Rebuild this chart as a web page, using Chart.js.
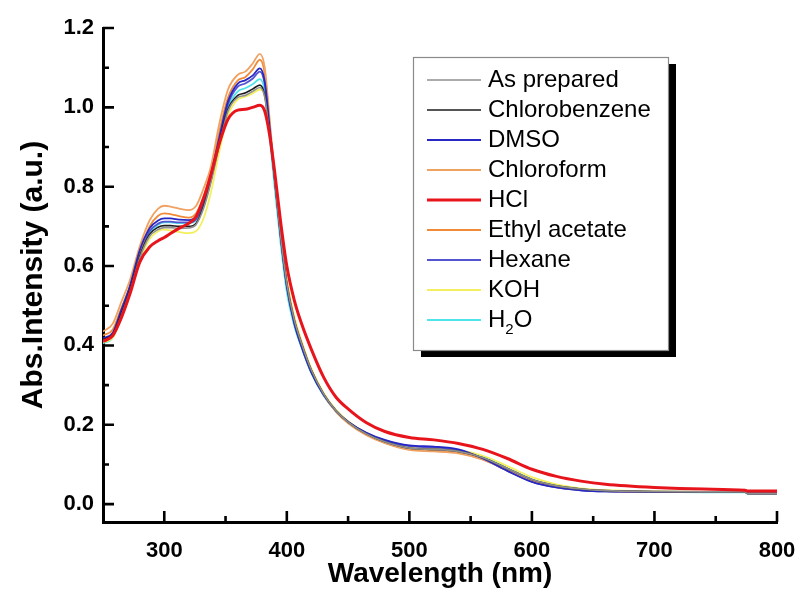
<!DOCTYPE html>
<html lang="en">
<head>
<meta charset="UTF-8">
<title>UV-Vis Absorption</title>
<style>
    html, body { margin: 0; padding: 0; background: #fff; }
    #wrap { width: 797px; height: 592px; }
</style>
<script src="https://cdn.jsdelivr.net/npm/chart.js@4.4.1/dist/chart.umd.min.js"></script>
</head>
<body>
<div id="wrap"><canvas id="spectra" width="797" height="592"></canvas></div>
<script>
// wavelength grid (nm)
const wavelength = [250, 258, 265, 272, 280, 288, 295, 300, 305, 312, 320, 326, 332, 338, 345, 352, 360, 366, 372, 378,
    382, 386, 390, 395, 400, 406, 412, 420, 430, 440, 450, 465, 480, 500, 520, 540, 560, 580, 600, 620,
    640, 660, 700, 740, 774, 776, 800];

// absorbance for each treatment
const asPrepared = [0.412, 0.425, 0.475, 0.535, 0.62, 0.675, 0.692, 0.697, 0.697, 0.695, 0.696, 0.705, 0.745, 0.81, 0.905, 0.99, 1.025, 1.03, 1.04, 1.05,
    1.025, 0.93, 0.82, 0.675, 0.555, 0.465, 0.405, 0.338, 0.278, 0.236, 0.207, 0.177, 0.157, 0.141, 0.138, 0.133, 0.117, 0.09, 0.062, 0.046,
    0.038, 0.034, 0.032, 0.031, 0.031, 0.027, 0.027];
const chlorobenzene = [0.415, 0.428, 0.48, 0.54, 0.625, 0.68, 0.698, 0.702, 0.702, 0.7, 0.7, 0.708, 0.75, 0.815, 0.91, 0.995, 1.03, 1.036, 1.046, 1.056,
    1.03, 0.935, 0.822, 0.676, 0.555, 0.465, 0.405, 0.338, 0.278, 0.236, 0.207, 0.177, 0.157, 0.141, 0.138, 0.133, 0.117, 0.09, 0.062, 0.046,
    0.038, 0.034, 0.032, 0.031, 0.031, 0.027, 0.027];
const dmso = [0.418, 0.432, 0.49, 0.55, 0.64, 0.695, 0.715, 0.72, 0.72, 0.717, 0.716, 0.724, 0.765, 0.83, 0.925, 1.015, 1.06, 1.068, 1.08, 1.098,
    1.065, 0.95, 0.825, 0.675, 0.55, 0.458, 0.398, 0.333, 0.276, 0.236, 0.208, 0.18, 0.162, 0.148, 0.145, 0.138, 0.115, 0.084, 0.056, 0.042,
    0.035, 0.032, 0.031, 0.031, 0.031, 0.027, 0.027];
const chloroform = [0.435, 0.455, 0.51, 0.565, 0.65, 0.715, 0.745, 0.752, 0.75, 0.745, 0.741, 0.752, 0.795, 0.85, 0.96, 1.045, 1.082, 1.09, 1.11, 1.135,
    1.1, 0.97, 0.835, 0.685, 0.56, 0.468, 0.407, 0.338, 0.277, 0.234, 0.204, 0.174, 0.154, 0.137, 0.133, 0.128, 0.112, 0.085, 0.058, 0.043,
    0.036, 0.033, 0.031, 0.031, 0.031, 0.027, 0.027];
const hcl = [0.41, 0.425, 0.47, 0.53, 0.61, 0.648, 0.664, 0.672, 0.682, 0.695, 0.708, 0.725, 0.77, 0.83, 0.91, 0.97, 0.993, 0.995, 1.0, 1.005,
    0.99, 0.93, 0.84, 0.71, 0.6, 0.515, 0.455, 0.39, 0.32, 0.27, 0.24, 0.205, 0.183, 0.168, 0.162, 0.153, 0.138, 0.115, 0.088, 0.07,
    0.058, 0.05, 0.042, 0.038, 0.035, 0.033, 0.033];
const ethylAcetate = [0.425, 0.44, 0.495, 0.55, 0.635, 0.7, 0.727, 0.733, 0.731, 0.726, 0.722, 0.733, 0.775, 0.835, 0.94, 1.025, 1.068, 1.076, 1.095, 1.12,
    1.085, 0.96, 0.83, 0.68, 0.558, 0.466, 0.405, 0.337, 0.277, 0.234, 0.205, 0.175, 0.155, 0.138, 0.134, 0.129, 0.113, 0.086, 0.059, 0.044,
    0.036, 0.033, 0.031, 0.031, 0.031, 0.027, 0.027];
const hexane = [0.414, 0.428, 0.485, 0.545, 0.632, 0.688, 0.707, 0.712, 0.712, 0.71, 0.71, 0.718, 0.76, 0.825, 0.92, 1.008, 1.052, 1.06, 1.072, 1.09,
    1.058, 0.945, 0.822, 0.673, 0.549, 0.457, 0.397, 0.332, 0.275, 0.235, 0.207, 0.179, 0.16, 0.146, 0.143, 0.136, 0.114, 0.084, 0.057, 0.042,
    0.035, 0.032, 0.031, 0.031, 0.031, 0.027, 0.027];
const koh = [0.408, 0.42, 0.47, 0.53, 0.612, 0.668, 0.688, 0.692, 0.69, 0.686, 0.683, 0.688, 0.72, 0.785, 0.89, 0.98, 1.02, 1.027, 1.035, 1.045,
    1.03, 0.945, 0.835, 0.69, 0.568, 0.475, 0.412, 0.342, 0.281, 0.238, 0.209, 0.179, 0.159, 0.143, 0.14, 0.136, 0.122, 0.096, 0.068, 0.05,
    0.04, 0.035, 0.032, 0.031, 0.031, 0.027, 0.027];
const water = [0.405, 0.42, 0.478, 0.54, 0.628, 0.685, 0.704, 0.71, 0.71, 0.708, 0.708, 0.716, 0.757, 0.82, 0.915, 1.0, 1.04, 1.048, 1.058, 1.071,
    1.04, 0.925, 0.8, 0.655, 0.535, 0.45, 0.395, 0.33, 0.274, 0.234, 0.206, 0.177, 0.158, 0.143, 0.14, 0.135, 0.119, 0.09, 0.062, 0.045,
    0.037, 0.033, 0.031, 0.03, 0.03, 0.026, 0.026];

const seriesNames = ['As prepared', 'Chlorobenzene', 'DMSO', 'Chloroform', 'HCl', 'Ethyl acetate', 'Hexane', 'KOH', 'H\u2082O'];
const seriesData = [asPrepared, chlorobenzene, dmso, chloroform, hcl, ethylAcetate, hexane, koh, water];
const seriesColors = ['#8f8f8f', '#1c1c1c', '#2727c4', '#f0a262', '#e8141c', '#f08a38', '#5454d2', '#f4ef5c', '#4fe3ea'];
const seriesWidths = [1.6, 1.6, 1.8, 1.8, 3, 1.8, 1.8, 1.8, 1.8];

// axis ticks
const xMajor = [300, 400, 500, 600, 700, 800];
const xMinor = [350, 450, 550, 650, 750];
const yMajor = [0, 0.2, 0.4, 0.6, 0.8, 1.0, 1.2];
const yMinor = [0.1, 0.3, 0.5, 0.7, 0.9, 1.1];

const FONT = "'Liberation Sans', Arial, sans-serif";

// inward tick marks on the left and bottom axes
const innerTicks = {
    id: 'innerTicks',
    afterDraw(chart) {
        const ctx = chart.ctx;
        const xs = chart.scales.x, ys = chart.scales.y;
        const left = chart.chartArea.left, bottom = chart.chartArea.bottom;
        ctx.save();
        ctx.strokeStyle = '#000';
        ctx.lineWidth = 2.6;
        ctx.beginPath();
        xMajor.forEach(v => { const p = xs.getPixelForValue(v); ctx.moveTo(p, bottom); ctx.lineTo(p, bottom - 11); });
        xMinor.forEach(v => { const p = xs.getPixelForValue(v); ctx.moveTo(p, bottom); ctx.lineTo(p, bottom - 6); });
        yMajor.forEach(v => { const p = ys.getPixelForValue(v); ctx.moveTo(left, p); ctx.lineTo(left + 11, p); });
        yMinor.forEach(v => { const p = ys.getPixelForValue(v); ctx.moveTo(left, p); ctx.lineTo(left + 6, p); });
        ctx.stroke();
        ctx.restore();
    }
};

// framed legend with a solid drop shadow
const shadowLegend = {
    id: 'shadowLegend',
    afterDraw(chart) {
        const ctx = chart.ctx;
        const bx = 413, by = 57, bw = 255, bh = 293;
        const size = 24;
        ctx.save();
        ctx.fillStyle = '#000';
        ctx.fillRect(bx + 8, by + 7, bw, bh);
        ctx.fillStyle = '#fff';
        ctx.fillRect(bx, by, bw, bh);
        ctx.strokeStyle = '#8a8a8a';
        ctx.lineWidth = 1.2;
        ctx.strokeRect(bx + 0.5, by + 0.5, bw, bh);
        ctx.textBaseline = 'middle';
        ctx.fillStyle = '#000';
        chart.data.datasets.forEach((ds, i) => {
            const ly = by + 23 + i * 30;
            ctx.strokeStyle = ds.borderColor;
            ctx.lineWidth = ds.borderWidth;
            ctx.beginPath();
            ctx.moveTo(427, ly);
            ctx.lineTo(481, ly);
            ctx.stroke();
            const label = ds.label;
            ctx.font = size + 'px ' + FONT;
            if (label.includes('\u2082')) {
                const parts = label.split('\u2082');
                let tx = 488;
                ctx.fillText(parts[0], tx, ly);
                tx += ctx.measureText(parts[0]).width;
                ctx.font = '15px ' + FONT;
                ctx.fillText('2', tx, ly + 10);
                tx += ctx.measureText('2').width;
                ctx.font = size + 'px ' + FONT;
                ctx.fillText(parts[1], tx, ly);
            } else {
                ctx.fillText(label, 488, ly);
            }
        });
        ctx.restore();
    }
};

const datasets = seriesNames.map((name, i) => ({
    label: name,
    data: wavelength.map((w, j) => ({ x: w, y: seriesData[i][j] })),
    borderColor: seriesColors[i],
    borderWidth: seriesWidths[i],
    pointRadius: 0,
    fill: false,
    cubicInterpolationMode: 'monotone',
    order: name === 'HCl' ? 0 : i + 1
}));

new Chart(document.getElementById('spectra'), {
    type: 'line',
    data: { datasets: datasets },
    options: {
        responsive: false,
        animation: false,
        events: [],
        layout: { padding: { left: 0, right: 20, top: 28, bottom: 0 } },
        plugins: {
            legend: { display: false },
            tooltip: { enabled: false }
        },
        scales: {
            x: {
                type: 'linear',
                min: 250,
                max: 800,
                afterFit: s => { s.height = 70; s.paddingRight = 0; s.paddingLeft = 0; },
                afterBuildTicks: s => { s.ticks = xMajor.map(v => ({ value: v })); },
                grid: { display: false, drawTicks: false },
                border: { display: true, color: '#000', width: 3 },
                ticks: {
                    color: '#000',
                    padding: 16,
                    maxRotation: 0,
                    font: { family: FONT, size: 22, weight: 'bold' }
                },
                title: {
                    display: true,
                    text: 'Wavelength (nm)',
                    color: '#000',
                    font: { family: FONT, size: 28, weight: 'bold' },
                    padding: { top: 0, bottom: 1 }
                }
            },
            y: {
                type: 'linear',
                min: -0.045,
                max: 1.2,
                afterFit: s => { s.width = 103; },
                afterBuildTicks: s => { s.ticks = yMajor.map(v => ({ value: v })); },
                grid: { display: false, drawTicks: false },
                border: { display: true, color: '#000', width: 3 },
                ticks: {
                    color: '#000',
                    padding: 9,
                    font: { family: FONT, size: 22, weight: 'bold' },
                    callback: v => v.toFixed(1)
                },
                title: {
                    display: true,
                    text: 'Abs.Intensity (a.u.)',
                    color: '#000',
                    font: { family: FONT, size: 30, weight: 'bold' },
                    padding: { top: 16, bottom: 0 }
                }
            }
        }
    },
    plugins: [innerTicks, shadowLegend]
});
</script>
</body>
</html>
